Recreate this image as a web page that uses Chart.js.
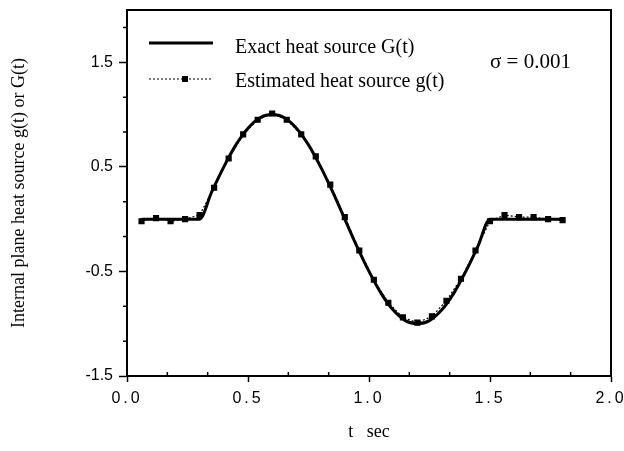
<!DOCTYPE html>
<html>
<head>
<meta charset="utf-8">
<script src="https://cdn.jsdelivr.net/npm/chart.js@4.4.0/dist/chart.umd.min.js"></script>
<style>
  html, body { margin: 0; padding: 0; background: #fff; }
</style>
</head>
<body>
<canvas id="heatchart" width="624" height="451"></canvas>
<script>
// exact heat source G(t)
const exactT = [0.06, 0.30, 0.35, 0.40, 0.45, 0.50, 0.55, 0.60, 0.65, 0.70, 0.75, 0.80, 0.85, 0.90,
  0.95, 1.00, 1.05, 1.10, 1.15, 1.20, 1.25, 1.30, 1.35, 1.40, 1.45, 1.50, 1.80];
const exactG = [0, 0, 0.26, 0.50, 0.71, 0.87, 0.97, 1.00, 0.97, 0.87, 0.71, 0.50, 0.26, 0,
  -0.26, -0.50, -0.71, -0.87, -0.97, -1.00, -0.97, -0.87, -0.71, -0.50, -0.26, 0, 0];

// estimated heat source g(t), sigma = 0.001
const estT = [0.06, 0.12, 0.18, 0.24, 0.30, 0.36, 0.42, 0.48, 0.54, 0.60, 0.66, 0.72, 0.78, 0.84, 0.90,
  0.96, 1.02, 1.08, 1.14, 1.20, 1.26, 1.32, 1.38, 1.44, 1.50, 1.56, 1.62, 1.68, 1.74, 1.80];
const estG = [-0.02, 0.01, -0.02, 0.00, 0.04, 0.30, 0.58, 0.81, 0.95, 1.01, 0.95, 0.81, 0.60, 0.33, 0.02,
  -0.30, -0.58, -0.80, -0.94, -0.99, -0.93, -0.78, -0.57, -0.30, -0.02, 0.04, 0.02, 0.02, 0.00, -0.01];

const xTicks = [0, 0.5, 1.0, 1.5, 2.0];
const yTicks = [-1.5, -0.5, 0.5, 1.5];
const xMinor = [1/6, 2/6, 4/6, 5/6, 7/6, 8/6, 10/6, 11/6];
const yMinor = [-1.5 + 1/3, -1.5 + 2/3, -0.5 + 1/3, -0.5 + 2/3, 0.5 + 1/3, 0.5 + 2/3, 1.5 + 1/3];

const serif = "'Liberation Serif', 'Times New Roman', serif";
const sans = "'Liberation Sans', Arial, sans-serif";

const framePlugin = {
  id: "frame",
  beforeDraw(chart) {
    // spread out the x tick digits like the original
    const sx = chart.scales.x;
    if (sx && !sx._spaced) {
      const orig = sx.drawLabels.bind(sx);
      sx.drawLabels = function (area) {
        const c = this.ctx;
        c.save();
        c.letterSpacing = "3px";
        orig(area);
        c.restore();
      };
      sx._spaced = true;
    }
  },
  afterDraw(chart) {
    const ctx = chart.ctx;
    const a = chart.chartArea;
    const sx = chart.scales.x, sy = chart.scales.y;
    ctx.save();
    ctx.strokeStyle = "#000";
    ctx.lineWidth = 2;
    ctx.strokeRect(a.left, a.top, a.right - a.left, a.bottom - a.top);

    // minor ticks
    ctx.lineWidth = 1.5;
    ctx.beginPath();
    xMinor.forEach(v => {
      const px = sx.getPixelForValue(v);
      ctx.moveTo(px, a.bottom);
      ctx.lineTo(px, a.bottom - 4);
    });
    yMinor.forEach(v => {
      const py = sy.getPixelForValue(v);
      ctx.moveTo(a.left, py);
      ctx.lineTo(a.left - 4, py);
    });
    ctx.stroke();

    // legend
    ctx.lineWidth = 3;
    ctx.beginPath();
    ctx.moveTo(149, 43);
    ctx.lineTo(213, 43);
    ctx.stroke();
    ctx.lineWidth = 1.2;
    ctx.setLineDash([2, 2]);
    ctx.beginPath();
    ctx.moveTo(149, 79);
    ctx.lineTo(213, 79);
    ctx.stroke();
    ctx.setLineDash([]);
    ctx.fillStyle = "#000";
    ctx.fillRect(182, 76, 6, 6);

    ctx.font = "20px " + serif;
    ctx.textBaseline = "alphabetic";
    ctx.textAlign = "left";
    ctx.fillText("Exact heat source G(t)", 235, 53);
    ctx.fillText("Estimated heat source g(t)", 235, 87);
    ctx.font = "21px " + serif;
    ctx.fillText("\u03c3 = 0.001", 490, 68);
    ctx.restore();
  }
};

const ctx = document.getElementById("heatchart").getContext("2d");
const heatchart = new Chart(ctx, {
  type: "line",
  data: {
    datasets: [
      {
        label: "Exact heat source G(t)",
        data: exactT.map((t, i) => ({ x: t, y: exactG[i] })),
        borderColor: "#000",
        borderWidth: 3,
        pointRadius: 0,
        cubicInterpolationMode: "monotone",
        fill: false
      },
      {
        label: "Estimated heat source g(t)",
        data: estT.map((t, i) => ({ x: t, y: estG[i] })),
        borderColor: "#000",
        borderWidth: 1.2,
        borderDash: [2, 2],
        pointStyle: "rect",
        pointRadius: 3.5,
        pointBackgroundColor: "#000",
        pointBorderColor: "#000",
        tension: 0,
        fill: false
      }
    ]
  },
  options: {
    responsive: false,
    animation: false,
    layout: { padding: { top: 10, right: 13, left: 0, bottom: 0 } },
    plugins: {
      legend: { display: false },
      tooltip: { enabled: false }
    },
    scales: {
      x: {
        type: "linear",
        min: 0,
        max: 2,
        afterBuildTicks: s => { s.ticks = xTicks.map(v => ({ value: v })); },
        afterFit: s => { s.height = 75; s.paddingLeft = 0; s.paddingRight = 0; },
        ticks: {
          callback: v => Number(v).toFixed(1),
          font: { family: sans, size: 16 },
          color: "#000",
          padding: 7,
          maxRotation: 0,
          autoSkip: false
        },
        grid: { drawOnChartArea: false, color: "#000", tickLength: 6, tickWidth: 1.5 },
        border: { color: "#000", width: 2 },
        title: {
          display: true,
          text: "t   sec",
          font: { family: serif, size: 18 },
          color: "#000",
          padding: { top: 0, bottom: 8 }
        }
      },
      y: {
        type: "linear",
        min: -1.5,
        max: 2.0,
        afterBuildTicks: s => { s.ticks = yTicks.map(v => ({ value: v })); },
        afterFit: s => { s.width = 127; s.paddingTop = 0; s.paddingBottom = 0; },
        ticks: {
          callback: v => Number(v).toFixed(1),
          font: { family: sans, size: 16 },
          color: "#000",
          padding: 6,
          autoSkip: false
        },
        grid: { drawOnChartArea: false, color: "#000", tickLength: 8, tickWidth: 1.5 },
        border: { color: "#000", width: 2 },
        title: {
          display: true,
          text: "Internal plane heat source g(t) or G(t)",
          font: { family: serif, size: 18 },
          color: "#000",
          padding: { top: 8, bottom: 0 }
        }
      }
    }
  },
  plugins: [framePlugin]
});
</script>
</body>
</html>
